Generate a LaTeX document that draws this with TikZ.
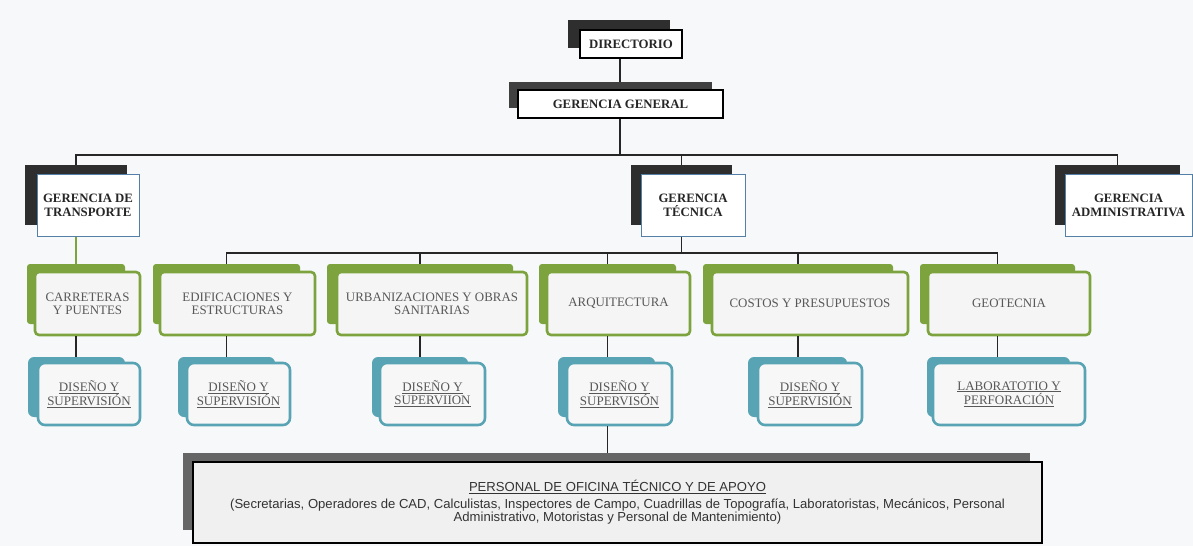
\documentclass[tikz,border=0pt]{standalone}
\usepackage{fontspec}
\setmainfont{Liberation Serif}
\setsansfont{Liberation Sans}
\usetikzlibrary{positioning}
\definecolor{pagebg}{RGB}{247,248,249}
\definecolor{areagreen}{RGB}{124,163,62}
\definecolor{unitteal}{RGB}{88,164,180}
\definecolor{gerblue}{RGB}{84,128,168}
\definecolor{labelgrey}{RGB}{88,88,88}

\begin{document}
\begin{tikzpicture}[x=1pt, y=-1pt,
        darkshade/.style={rectangle, fill=black!82, draw=none, inner sep=0pt, minimum height=28},
        topbox/.style={rectangle, draw=black, line width=1.6pt, fill=white, inner sep=0pt, minimum height=28, align=center, text=black!85, font=\fontsize{12.8}{14}\selectfont\bfseries},
        gerbox/.style={rectangle, draw=gerblue, line width=1pt, fill=white, inner sep=0pt, minimum height=62, align=center, text=black!85, font=\fontsize{12.8}{14}\selectfont\bfseries},
        areashade/.style={rectangle, rounded corners=3pt, fill=areagreen, draw=none, inner sep=0pt, minimum height=60},
        areabox/.style={rectangle, rounded corners=4pt, draw=areagreen, line width=2.6pt, fill=black!4, inner sep=0pt, minimum height=63, align=center, text=labelgrey, font=\fontsize{12.9}{13}\selectfont},
        unitshade/.style={rectangle, rounded corners=6pt, fill=unitteal, draw=none, inner sep=0pt, minimum width=97, minimum height=60},
        unitbox/.style={rectangle, rounded corners=7pt, draw=unitteal, line width=2.6pt, fill=black!3, inner sep=0pt, minimum width=104, minimum height=62, align=center, text=labelgrey, font=\fontsize{13}{13}\selectfont},
        staffbox/.style={rectangle, draw=black, line width=2.6pt, fill=black!6, inner sep=0pt, align=center, text=black!80, font=\sffamily\fontsize{13.1}{13.5}\selectfont},
        link/.style={draw=black!85, line width=1.3pt},
        greenlink/.style={draw=areagreen, line width=2pt}
    ]
    \useasboundingbox (0,0) rectangle (1193,546);
    \fill[pagebg] (0,0) rectangle (1193,546);

    % Directorio and gerencia general
    \node[darkshade, minimum width=102] (dir-s) at (619,34) {};
    \node[topbox, minimum width=102] (dir) at ([shift={(12,10)}]dir-s.center) {DIRECTORIO};
    \node[darkshade, fill=black!75, minimum width=203, minimum height=26] (gg-s) at (610.5,95) {};
    \node[topbox, minimum width=205] (gg) at ([shift={(10,9)}]gg-s.center) {GERENCIA GENERAL};

    % Gerencias
    \node[darkshade, minimum width=102, minimum height=60] (gdt-s) at (76,195) {};
    \node[gerbox, minimum width=102] (gdt) at ([shift={(12,10)}]gdt-s.center) {GERENCIA DE\\TRANSPORTE};
    \node[darkshade, minimum width=101, minimum height=60] (gt-s) at (681.5,195) {};
    \node[gerbox, minimum width=104] (gt) at ([shift={(11.5,10)}]gt-s.center) {GERENCIA\\TÉCNICA};
    \node[darkshade, minimum width=125, minimum height=60] (ga-s) at (1117.5,195) {};
    \node[gerbox, minimum width=127] (ga) at ([shift={(11,10)}]ga-s.center) {GERENCIA\\ADMINISTRATIVA};

    % Areas
    \node[areashade, minimum width=98] (carr-s) at (76,294) {};
    \node[areabox, minimum width=105] (carr) at ([shift={(11.5,9.5)}]carr-s.center) {CARRETERAS\\Y PUENTES};
    \node[areashade, minimum width=147] (edif-s) at (226.5,294) {};
    \node[areabox, minimum width=155] (edif) at ([shift={(11,9.5)}]edif-s.center) {EDIFICACIONES Y\\ESTRUCTURAS};
    \node[areashade, minimum width=186] (urb-s) at (420,294) {};
    \node[areabox, minimum width=190] (urb) at ([shift={(12,9.5)}]urb-s.center) {URBANIZACIONES Y OBRAS\\SANITARIAS};
    \node[areashade, minimum width=137] (arq-s) at (607.5,294) {};
    \node[areabox, minimum width=143] (arq) at ([shift={(11,9.5)}]arq-s.center) {ARQUITECTURA};
    \node[areashade, minimum width=190] (cost-s) at (798,294) {};
    \node[areabox, minimum width=196] (cost) at ([shift={(12,9.5)}]cost-s.center) {COSTOS Y PRESUPUESTOS};
    \node[areashade, minimum width=155] (geo-s) at (997.5,294) {};
    \node[areabox, minimum width=162] (geo) at ([shift={(11.5,9.5)}]geo-s.center) {GEOTECNIA};

    % Units
    \node[unitshade] (carr-u-s) at (76.5,387) {};
    \node[unitbox, minimum width=102] (carr-u) at ([shift={(12.5,7)}]carr-u-s.center) {\underline{DISEÑO Y}\\\underline{SUPERVISIÓN}};
    \node[unitshade] (edif-u-s) at (226.5,387) {};
    \node[unitbox, minimum width=103] (edif-u) at ([shift={(12,7)}]edif-u-s.center) {\underline{DISEÑO Y}\\\underline{SUPERVISIÓN}};
    \node[unitshade, minimum width=96] (urb-u-s) at (420,387) {};
    \node[unitbox, minimum width=105] (urb-u) at ([shift={(12.5,7)}]urb-u-s.center) {\underline{DISEÑO Y}\\\underline{SUPERVIION}};
    \node[unitshade] (arq-u-s) at (606.5,387) {};
    \node[unitbox, minimum width=105] (arq-u) at ([shift={(13,7)}]arq-u-s.center) {\underline{DISEÑO Y}\\\underline{SUPERVISÓN}};
    \node[unitshade, minimum width=99] (cost-u-s) at (797.5,387) {};
    \node[unitbox] (cost-u) at ([shift={(12.5,7)}]cost-u-s.center) {\underline{DISEÑO Y}\\\underline{SUPERVISIÓN}};
    \node[unitshade, minimum width=143] (geo-u-s) at (998.5,387) {};
    \node[unitbox, minimum width=152] (geo-u) at ([shift={(10.5,7)}]geo-u-s.center) {\underline{LABORATOTIO Y}\\\underline{PERFORACIÓN}};

    % Staff
    \node[darkshade, fill=black!60, minimum width=847, minimum height=77] (staff-s) at (606.5,491.5) {};
    \node[staffbox, minimum width=849, minimum height=81] (staff) at ([shift={(11,11)}]staff-s.center) {\underline{PERSONAL DE OFICINA TÉCNICO Y DE APOYO}\\[3pt]
        (Secretarias, Operadores de CAD, Calculistas, Inspectores de Campo, Cuadrillas de Topografía, Laboratoristas, Mecánicos, Personal\\
        Administrativo, Motoristas y Personal de Mantenimiento)};

    % Connect everything
    \coordinate (trunk1) at (620,155);
    \coordinate (trunk2) at (681.5,253);
    \draw[link] (dir.south -| trunk1) -- (gg-s.north -| trunk1);
    \draw[link] (gg.south -| trunk1) -- (trunk1);
    \draw[link] (gdt-s.north) |- (trunk1) -| (ga-s.north);
    \draw[link] (trunk1 -| gt-s) -- (gt-s.north);
    \draw[link] (gt.south -| gt-s) -- (trunk2);
    \draw[link] (edif-s.north) |- (trunk2) -| (geo-s.north);
    \draw[link] (trunk2 -| urb-s) -- (urb-s.north);
    \draw[link] (trunk2 -| arq-s) -- (arq-s.north);
    \draw[link] (trunk2 -| cost-s) -- (cost-s.north);
    \draw[greenlink] (gdt.south -| gdt-s) -- (carr-s.north);
    \draw[link] (carr.south -| carr-s) -- (carr-u-s.north -| carr-s);
    \draw[link] (edif.south -| edif-s) -- (edif-u-s.north -| edif-s);
    \draw[link] (urb.south -| urb-s) -- (urb-u-s.north -| urb-s);
    \draw[link] (arq.south -| arq-s) -- (arq-u-s.north -| arq-s);
    \draw[link] (cost.south -| cost-s) -- (cost-u-s.north -| cost-s);
    \draw[link] (geo.south -| geo-s) -- (geo-u-s.north -| geo-s);
    \draw[link] (arq-u.south -| arq-s) -- (staff-s.north -| arq-s);
\end{tikzpicture}
\end{document}
